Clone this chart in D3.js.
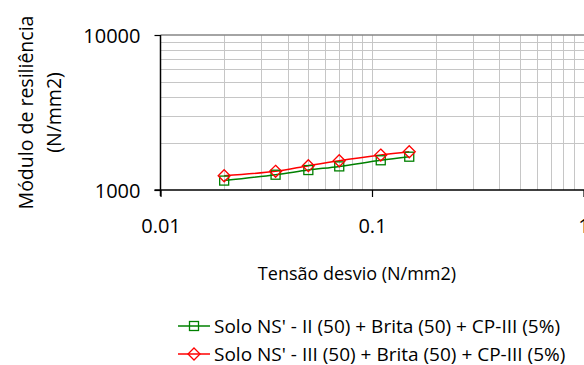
<!DOCTYPE html>
<html>
<head>
<meta charset="utf-8">
<script src="https://cdn.jsdelivr.net/npm/d3@7"></script>
<style>
  body { margin: 0; background: #fff; overflow: hidden; }
  text { font-family: "Open Sans", sans-serif; fill: #000; }
</style>
</head>
<body>
<svg id="chart" width="584" height="365"></svg>
<script>
// data
var tensao = [0.02, 0.035, 0.05, 0.07, 0.11, 0.15];
var soloII = [1150, 1255, 1345, 1420, 1555, 1640];
var soloIII = [1235, 1320, 1435, 1545, 1680, 1765];
var xTicks = [0.01, 0.1, 1];
var yTicks = [1000, 10000];
var seriesNames = ["Solo NS' - II (50) + Brita (50) + CP-III (5%)",
                   "Solo NS' - III (50) + Brita (50) + CP-III (5%)"];

var svg = d3.select("#chart");
var pLeft = 160.5, pRight = 583.5, pTop = 35, pBottom = 190;

var x = d3.scaleLog().domain([0.01, 1]).range([pLeft, pRight]);
var y = d3.scaleLog().domain([1000, 10000]).range([pBottom, pTop]);

// minor grid
var xGrid = [], yGrid = [];
[0.01, 0.1].forEach(function(d){
  for (var k = 2; k <= 10; k++) xGrid.push(d * k);
});
for (var k = 2; k <= 9; k++) yGrid.push(1000 * k);

svg.append("g").selectAll("line").data(xGrid).enter().append("line")
  .attr("x1", function(d){ return Math.round(x(d)) + 0.5; })
  .attr("x2", function(d){ return Math.round(x(d)) + 0.5; })
  .attr("y1", pTop).attr("y2", pBottom)
  .attr("stroke", "#c6c6c6").attr("stroke-width", 1);

svg.append("g").selectAll("line").data(yGrid).enter().append("line")
  .attr("y1", function(d){ return Math.round(y(d)) + 0.5; })
  .attr("y2", function(d){ return Math.round(y(d)) + 0.5; })
  .attr("x1", pLeft).attr("x2", 584)
  .attr("stroke", "#c6c6c6").attr("stroke-width", 1);

// top gridline (10000)
svg.append("line")
  .attr("x1", pLeft).attr("x2", 584)
  .attr("y1", y(10000)).attr("y2", y(10000))
  .attr("stroke", "#868686").attr("stroke-width", 1.5);

// axes
var xAxis = d3.axisBottom(x).tickValues(xTicks).tickSize(7).tickFormat(d3.format(""));
var gx = svg.append("g").attr("transform", "translate(0," + pBottom + ")").call(xAxis);
gx.select(".domain").attr("stroke", "#000").attr("stroke-width", 1.5).attr("d", "M" + (pLeft - 6) + ",0H584");
gx.selectAll(".tick line").attr("stroke", "#000").attr("stroke-width", 1.2);
gx.selectAll(".tick text").attr("font-size", 20).attr("font-family", "Open Sans").attr("dy", "0").attr("y", 43);

var yAxis = d3.axisLeft(y).tickValues(yTicks).tickSize(6).tickFormat(d3.format("d"));
var gy = svg.append("g").attr("transform", "translate(" + pLeft + ",0)").call(yAxis);
gy.select(".domain").attr("stroke", "#000").attr("stroke-width", 1.5).attr("d", "M0," + pTop + "V" + (pBottom + 6));
gy.selectAll(".tick line").attr("stroke", "#000").attr("stroke-width", 1.2);
gy.selectAll(".tick text").attr("font-size", 20).attr("font-family", "Open Sans").attr("x", -20).attr("dy", "0.35em");

// series
var line = d3.line().curve(d3.curveCatmullRom)
  .x(function(d){ return x(d[0]); })
  .y(function(d){ return y(d[1]); });

var series = [
  { name: seriesNames[0], values: d3.zip(tensao, soloII), color: "#008000", marker: "square" },
  { name: seriesNames[1], values: d3.zip(tensao, soloIII), color: "#ff0000", marker: "diamond" }
];

function drawMarker(g, type, color, cx, cy) {
  if (type === "square") {
    g.append("rect").attr("x", cx - 4.5).attr("y", cy - 4.5).attr("width", 9).attr("height", 9)
      .attr("fill", "none").attr("stroke", color).attr("stroke-width", 1.3);
  } else {
    g.append("path").attr("d", "M" + cx + "," + (cy - 6) + "L" + (cx + 6) + "," + cy +
      "L" + cx + "," + (cy + 6) + "L" + (cx - 6) + "," + cy + "Z")
      .attr("fill", "none").attr("stroke", color).attr("stroke-width", 1.3);
  }
}

series.forEach(function(s){
  svg.append("path").datum(s.values).attr("d", line)
    .attr("fill", "none").attr("stroke", s.color).attr("stroke-width", 1.5);
});
series.forEach(function(s){
  var g = svg.append("g");
  s.values.forEach(function(v){ drawMarker(g, s.marker, s.color, x(v[0]), y(v[1])); });
});

// axis titles
svg.append("text").attr("x", 357).attr("y", 280).attr("text-anchor", "middle")
  .attr("font-size", 18).text("Tensão desvio (N/mm2)");

var yt = svg.append("text").attr("transform", "translate(0," + (pTop + pBottom) / 2 + ") rotate(-90)")
  .attr("text-anchor", "middle").attr("font-size", 19.5);
yt.append("tspan").attr("x", 0).attr("y", 33).text("Módulo de resiliência");
yt.append("tspan").attr("x", 0).attr("y", 61).text("(N/mm2)");

// legend
var leg = svg.append("g");
series.forEach(function(s, i){
  var ly = 326 + i * 28;
  leg.append("line").attr("x1", 178).attr("x2", 210).attr("y1", ly).attr("y2", ly)
    .attr("stroke", s.color).attr("stroke-width", 1.5);
  drawMarker(leg, s.marker, s.color, 194, ly);
  leg.append("text").attr("x", 214).attr("y", ly).attr("dy", "0.35em")
    .attr("font-size", 19).text(s.name);
});
</script>
</body>
</html>
